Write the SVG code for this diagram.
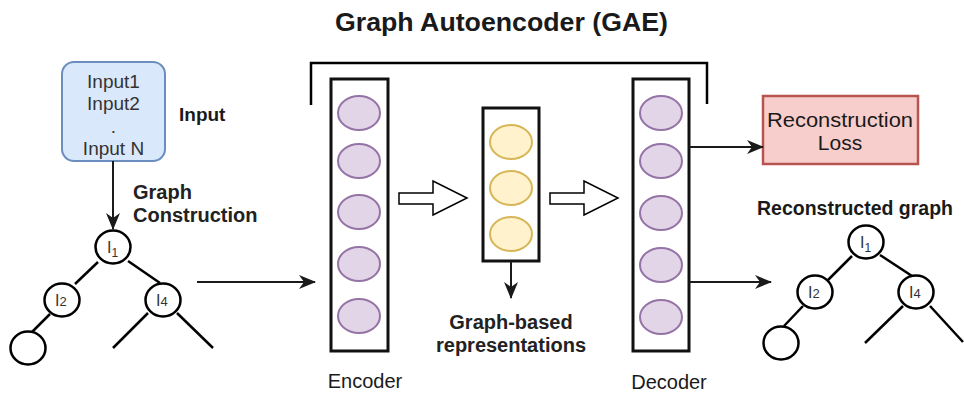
<svg xmlns="http://www.w3.org/2000/svg" width="964" height="396" viewBox="0 0 964 396">
<defs>
<style>
text{font-family:"Liberation Sans",Arial,sans-serif;fill:#1a1a1a}
.b{font-weight:bold}
.box{font-size:19px;fill:#333}
.lbl{font-size:20px;font-weight:bold;fill:#222}
.col{fill:#fff;stroke:#111;stroke-width:3}
.pu{fill:#e1d5e7;stroke:#9673a6;stroke-width:2}
.ye{fill:#fff2cc;stroke:#d6b656;stroke-width:2}
.nd{fill:#fff;stroke:#000;stroke-width:2.5}
.ln{fill:none;stroke:#000;stroke-width:2.5}
.cn{fill:none;stroke:#1a1a1a;stroke-width:2}
.bk{fill:#fff;stroke:#000;stroke-width:1.5}
.nl{font-size:16px;fill:#333}
</style>
<marker id="ah" markerWidth="17" markerHeight="14" refX="16" refY="7" orient="auto" markerUnits="userSpaceOnUse">
<path d="M0,0 L17,7 L0,14 L5,7 Z" fill="#1a1a1a"/>
</marker>
</defs>
<rect width="964" height="396" fill="#fff"/>

<text id="title" class="b" x="335" y="31" font-size="26" fill="#111" textLength="333" lengthAdjust="spacingAndGlyphs">Graph Autoencoder (GAE)</text>

<g id="input">
<rect x="62" y="62" width="103" height="99" rx="12" fill="#dae8fc" stroke="#6c8ebf" stroke-width="2"/>
<text class="box" x="113.5" y="88" text-anchor="middle">Input1</text>
<text class="box" x="113.5" y="110" text-anchor="middle">Input2</text>
<text class="box" x="113.5" y="133" text-anchor="middle">.</text>
<text class="box" x="113.5" y="155" text-anchor="middle">Input N</text>
</g>
<text id="input-label" class="b" x="179" y="121" font-size="19" fill="#222">Input</text>
<g id="graph-construction-label">
<text class="lbl" x="133" y="199">Graph</text>
<text class="lbl" x="133" y="222">Construction</text>
</g>

<g id="input-graph">
<line class="ln" x1="98" y1="262" x2="75" y2="284"/>
<line class="ln" x1="128" y1="261" x2="160" y2="283"/>
<line class="ln" x1="50" y1="314" x2="31" y2="333"/>
<line class="ln" x1="148" y1="313" x2="113" y2="348"/>
<line class="ln" x1="177" y1="313" x2="213" y2="348"/>
<ellipse class="nd" cx="113" cy="247" rx="17.5" ry="16.5"/>
<ellipse class="nd" cx="62" cy="300" rx="17.5" ry="16.5"/>
<ellipse class="nd" cx="163" cy="300" rx="17.5" ry="16.5"/>
<ellipse class="nd" cx="28" cy="348" rx="17.5" ry="16.5"/>
<text class="nl" x="107" y="253">I<tspan font-size="12" dy="4">1</tspan></text>
<text class="nl" x="55" y="306">I<tspan font-size="13">2</tspan></text>
<text class="nl" x="156" y="306">I<tspan font-size="13">4</tspan></text>
</g>

<g id="bracket">
<path class="ln" d="M311,105 V63 H707 V104" stroke-width="3"/>
</g>

<g id="encoder">
<rect class="col" x="331" y="79" width="57" height="272"/>
<ellipse class="pu" cx="359" cy="113" rx="21" ry="17"/>
<ellipse class="pu" cx="359" cy="161" rx="21" ry="17"/>
<ellipse class="pu" cx="359" cy="212" rx="21" ry="17"/>
<ellipse class="pu" cx="359" cy="264" rx="21" ry="17"/>
<ellipse class="pu" cx="359" cy="316" rx="21" ry="17"/>
<text x="365" y="388" font-size="20" text-anchor="middle">Encoder</text>
</g>

<g id="latent">
<rect class="col" x="483" y="108" width="56" height="153"/>
<ellipse class="ye" cx="511" cy="142" rx="21" ry="17"/>
<ellipse class="ye" cx="511" cy="188" rx="21" ry="17"/>
<ellipse class="ye" cx="511" cy="234" rx="21" ry="17"/>
</g>
<g id="latent-label">
<text class="lbl" x="511" y="329" text-anchor="middle">Graph-based</text>
<text class="lbl" x="511" y="352" text-anchor="middle">representations</text>
</g>

<g id="decoder">
<rect class="col" x="633" y="79" width="56" height="272"/>
<ellipse class="pu" cx="661" cy="113" rx="21" ry="17"/>
<ellipse class="pu" cx="661" cy="161" rx="21" ry="17"/>
<ellipse class="pu" cx="661" cy="213" rx="21" ry="17"/>
<ellipse class="pu" cx="661" cy="265" rx="21" ry="17"/>
<ellipse class="pu" cx="661" cy="317" rx="21" ry="17"/>
<text x="669" y="389" font-size="20" text-anchor="middle">Decoder</text>
</g>

<g id="loss">
<rect x="763" y="96" width="155" height="68" fill="#f8cecc" stroke="#b85450" stroke-width="2.5"/>
<text x="840" y="127" font-size="21" text-anchor="middle" fill="#222" textLength="146" lengthAdjust="spacingAndGlyphs">Reconstruction</text>
<text x="840" y="150" font-size="21" text-anchor="middle" fill="#222">Loss</text>
</g>

<text id="recon-label" class="b" x="757" y="215" font-size="19.5" fill="#222" textLength="196" lengthAdjust="spacingAndGlyphs">Reconstructed graph</text>

<g id="output-graph">
<line class="ln" x1="852" y1="256" x2="828" y2="280"/>
<line class="ln" x1="880" y1="255" x2="912" y2="276"/>
<line class="ln" x1="803" y1="306" x2="784" y2="326"/>
<line class="ln" x1="903" y1="306" x2="865" y2="343"/>
<line class="ln" x1="930" y1="306" x2="963" y2="342"/>
<ellipse class="nd" cx="866" cy="242" rx="17.5" ry="16.5"/>
<ellipse class="nd" cx="815" cy="292" rx="17.5" ry="16.5"/>
<ellipse class="nd" cx="916" cy="292" rx="17.5" ry="16.5"/>
<ellipse class="nd" cx="781" cy="343" rx="17.5" ry="16.5"/>
<text class="nl" x="860" y="248">I<tspan font-size="12" dy="4">1</tspan></text>
<text class="nl" x="808" y="298">I<tspan font-size="13">2</tspan></text>
<text class="nl" x="909" y="298">I<tspan font-size="13">4</tspan></text>
</g>

<g id="connectors">
<line class="cn" x1="113" y1="161" x2="113" y2="229" marker-end="url(#ah)"/>
<line class="cn" x1="197" y1="282" x2="315" y2="282" marker-end="url(#ah)"/>
<line class="cn" x1="511" y1="261" x2="511" y2="298" marker-end="url(#ah)"/>
<line class="cn" x1="689" y1="147" x2="763" y2="147" marker-end="url(#ah)"/>
<line class="cn" x1="689" y1="282" x2="771" y2="282" marker-end="url(#ah)"/>
<path class="bk" d="M399,193 H433 V181 L467,198 L433,215 V204 H399 Z"/>
<path class="bk" d="M550,193 H584 V181 L618,198 L584,215 V204 H550 Z"/>
</g>
</svg>
